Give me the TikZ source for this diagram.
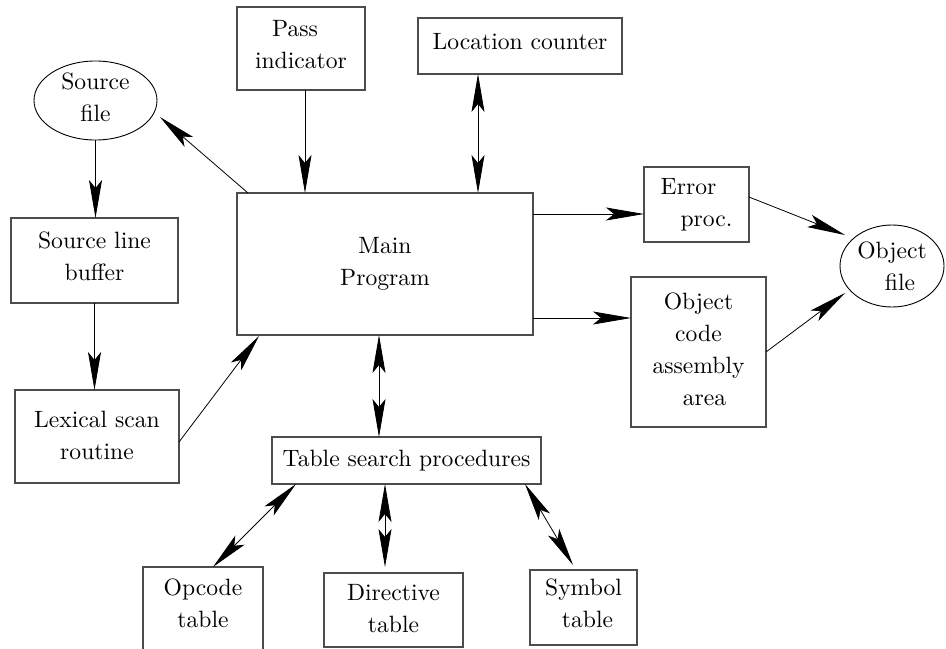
\documentclass[tikz,border=0pt]{standalone}
\usepackage{fontspec}
\setmainfont{lmroman10-regular.otf}
\usetikzlibrary{arrows.meta,shapes.geometric,calc}
\newcommand\xdp[1]{\rule[-#1]{0pt}{#1}}
\begin{document}
\begin{tikzpicture}[x=0.5pt,y=-0.5pt,
  font=\fontsize{11.8}{16}\selectfont,
  box/.style={draw=black!70,line width=0.6pt,rectangle,inner sep=0pt,outer sep=0pt,align=center},
  ell/.style={draw=black,line width=0.45pt,ellipse,inner sep=0pt,outer sep=0pt,align=center},
  arr/.style={line width=0.4pt,-{Stealth[length=19pt,width=6.5pt,inset=4pt]}},
  darr/.style={line width=0.4pt,{Stealth[length=19pt,width=6.5pt,inset=4pt]}-{Stealth[length=19pt,width=6.5pt,inset=4pt]}}]
\useasboundingbox (0,0) rectangle (946,648);
\clip (0,0) rectangle (946,648);
% nodes
\node[box,minimum width=64pt,minimum height=41.5pt] (pass) at (301,48.5) {Pass\hspace*{6pt}\\indicator\xdp{4.5pt}};
\node[box,minimum width=102pt,minimum height=28pt] (loc) at (520,46) {Location counter\xdp{5pt}};
\node[ell,minimum width=61.5pt,minimum height=39.5pt] (src) at (95.5,100.5) {Source\\file\xdp{3pt}};
\node[box,minimum width=148pt,minimum height=71pt] (main) at (385,264) {Main\\Program\xdp{3pt}};
\node[box,minimum width=83.5pt,minimum height=42.5pt] (buf) at (94.5,260.5) {Source line\\buffer\xdp{4.5pt}};
\node[box,minimum width=82pt,minimum height=46.5pt] (lex) at (97,436.5) {Lexical scan\\routine\xdp{1.5pt}};
\node[box,minimum width=52.5pt,minimum height=37.5pt] (err) at (696.5,204.5) {Error\hspace*{8pt}\\\hspace*{10pt}proc.};
\node[box,minimum width=67.5pt,minimum height=75pt] (oc) at (698.5,352) {Object\\code\\assembly\\\hspace*{6pt}area\xdp{2.5pt}};
\node[ell,minimum width=52pt,minimum height=41pt] (objf) at (892,266) {Object\\\hspace*{8pt}file};
\node[box,minimum width=134.5pt,minimum height=23.5pt] (tsp) at (406.5,460.5) {Table search procedures};
\node[box,minimum width=60pt,minimum height=46.5pt] (opc) at (203,613.5) {Opcode\\table\xdp{10pt}};
\node[box,minimum width=69.5pt,minimum height=37pt] (dir) at (393.5,610) {Directive\\table\xdp{1.5pt}};
\node[box,minimum width=53.5pt,minimum height=37.5pt] (sym) at (583.5,607.5) {Symbol\\\hspace*{4pt}table\xdp{4.5pt}};
% helper coordinates
\coordinate (p1) at ($(pass.south)+(4,0)$);
\coordinate (l1) at ($(loc.south)+(-42,0)$);
\coordinate (e1) at ($(main.east)+(0,-50)$);
\coordinate (o1) at ($(main.east)+(0,54)$);
\coordinate (m1) at ($(main.south)+(-6,0)$);
\coordinate (d1) at ($(tsp.south)+(-21.5,0)$);
% connectors
\draw[arr] (src.south) -- (src.south |- buf.north);
\draw[arr] (buf.south) -- (buf.south |- lex.north);
\draw[arr] ($(main.north west)+(11,0)$) -- ($(src.center)+(64.5,16.5)$);
\draw[arr] ($(lex.east)+(0,5.5)$) -- ($(main.south west)+(22,1)$);
\draw[arr] (p1) -- (p1 |- main.north);
\draw[darr] (l1) -- (l1 |- main.north);
\draw[arr] (e1) -- (e1 -| err.west);
\draw[arr] (o1) -- (o1 -| oc.west);
\draw[arr] ($(err.east)+(0,-7.5)$) -- ($(objf.center)+(-47,-31)$);
\draw[arr] (oc.east) -- ($(objf.center)+(-47,27)$);
\draw[darr] (m1) -- (m1 |- tsp.north);
\draw[darr] ($(tsp.south west)+(24,0)$) -- ($(opc.north)+(10,0)$);
\draw[darr] (d1) -- ($(dir.north)+(-8.5,-6)$);
\draw[darr] ($(tsp.south east)+(-16,0)$) -- ($(sym.north)+(-10.5,-5)$);
\end{tikzpicture}
\end{document}
